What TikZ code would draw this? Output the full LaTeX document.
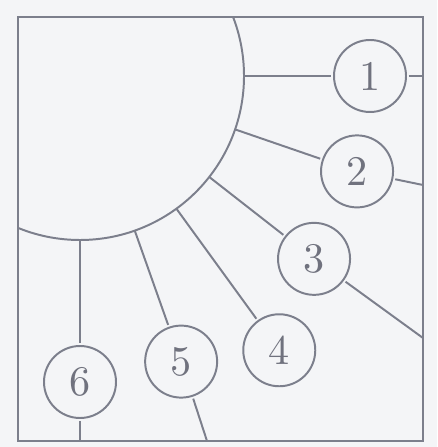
\documentclass[tikz,border=0pt]{standalone}
\usepackage{fontspec}
\usetikzlibrary{calc}
\definecolor{inkgray}{HTML}{7C7F8C}
\definecolor{paper}{HTML}{F4F5F7}
\tikzset{
    ray/.style={draw=inkgray,line width=1.4pt},
    every edge/.style={ray},
    num/.style={circle,draw=inkgray,line width=1.4pt,fill=paper,scale=3,transform shape,minimum size=6mm,inner sep=0pt,text=inkgray!90!black,font=\fontsize{10}{10}\selectfont},
}

\begin{document}
\begin{tikzpicture}[x=0.25mm,y=-0.25mm]
    \fill[paper] (0,0) rectangle (437,447);
    \useasboundingbox (0,0) rectangle (437,447);
    \coordinate (o) at (80,76);
    % frame and sun
    \draw[ray] (18,17) rectangle (423,441);
    \begin{scope}
        \clip (18,17) rectangle (423,441);
        \draw[ray] (o) circle[radius=164];
    \end{scope}
    % rays leave the sun here
    \foreach \a [count=\i] in {0,19,38,54,70.5,90}
        \coordinate (s\i) at ($(o)+(\a:164)$);
    % numbered circles
    \node[num] (n1) at ($(o)+(0:290)$) {1};
    \node[num] (n2) at ($(o)+(19:293)$) {2};
    \node[num] (n3) at ($(o)+(38:297)$) {3};
    \node[num] (n4) at ($(o)+(54:339)$) {4};
    \node[num] (n5) at ($(o)+(70.5:303)$) {5};
    \node[num] (n6) at ($(o)+(90:306)$) {6};
    % ray ends on the frame
    \coordinate (e1) at (423,76);
    \coordinate (e2) at (423,185);
    \coordinate (e3) at (423,338);
    \coordinate (e5) at (207,441);
    \coordinate (e6) at (80,441);

    \path
    (s1) edge (n1) (n1) edge (e1)
    (s2) edge (n2) (n2) edge (e2)
    (s3) edge (n3) (n3) edge (e3)
    (s4) edge (n4)
    (s5) edge (n5) (n5) edge (e5)
    (s6) edge (n6) (n6) edge (e6);
\end{tikzpicture}
\end{document}
